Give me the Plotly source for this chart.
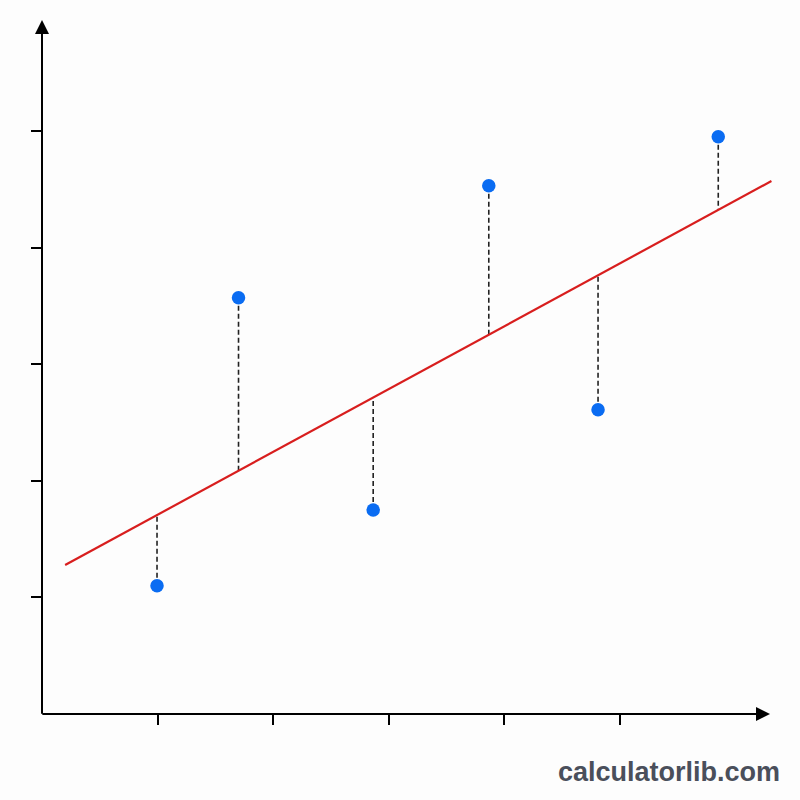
import plotly.graph_objects as go

# data
x_pts = [0.995, 1.70, 2.865, 3.865, 4.81, 5.85]
y_pts = [1.10, 3.57, 1.75, 4.53, 2.61, 4.95]
line_x = [0.20, 6.31]
slope = 0.539
intercept = 1.170
x_ticks = [1, 2, 3, 4, 5]
y_ticks = [1, 2, 3, 4, 5]

UX = 115.6
UY = 116.6
L, R, T, B = 42, 20, 15, 86
W = H = 800
xmax = (W - L - R) / UX
ymax = (H - T - B) / UY

fig = go.Figure()

# residual lines
for xp, yp in zip(x_pts, y_pts):
    yf = slope * xp + intercept
    fig.add_trace(go.Scatter(x=[xp, xp], y=[yp, yf], mode="lines",
                             line=dict(color="#222222", width=1.6, dash="5px,3px"),
                             hoverinfo="skip", showlegend=False))

# regression line
fig.add_trace(go.Scatter(x=line_x, y=[slope * v + intercept for v in line_x], mode="lines",
                         line=dict(color="#d81e1e", width=2.2), showlegend=False,
                         cliponaxis=False))

# points
fig.add_trace(go.Scatter(x=x_pts, y=y_pts, mode="markers",
                         marker=dict(color="#0a6cf2", size=13.5, line=dict(width=0)),
                         showlegend=False, cliponaxis=False))

# axes with arrows
fig.add_annotation(x=0, y=(714 - 20) / UY, ax=0, ay=-0.01, xref="x", yref="y", axref="x", ayref="y",
                   showarrow=True, arrowhead=2, arrowsize=1.4, arrowwidth=2, arrowcolor="#000000", text="")
fig.add_annotation(x=(770 - 42) / UX, y=0, ax=-0.01, ay=0, xref="x", yref="y", axref="x", ayref="y",
                   showarrow=True, arrowhead=2, arrowsize=1.4, arrowwidth=2, arrowcolor="#000000", text="")

fig.add_annotation(text="calculatorlib.com", xref="paper", yref="paper", x=1.0, y=0,
                   xanchor="right", yanchor="middle", yshift=-58, xshift=2, showarrow=False,
                   font=dict(family="Liberation Sans, Arial, sans-serif", size=27, color="#4a4f5b",
                             weight="bold"))

fig.update_xaxes(range=[0, xmax], tickvals=x_ticks, ticks="outside", ticklen=10, tickwidth=2,
                 tickcolor="#000000", showticklabels=False, showgrid=False, zeroline=False,
                 showline=False, fixedrange=True)
fig.update_yaxes(range=[0, ymax], tickvals=y_ticks, ticks="outside", ticklen=10, tickwidth=2,
                 tickcolor="#000000", showticklabels=False, showgrid=False, zeroline=False,
                 showline=False, fixedrange=True)

fig.update_layout(width=W, height=H, margin=dict(l=L, r=R, t=T, b=B),
                  paper_bgcolor="#fdfdfd", plot_bgcolor="#fdfdfd", showlegend=False)

fig.write_html("out.html")
